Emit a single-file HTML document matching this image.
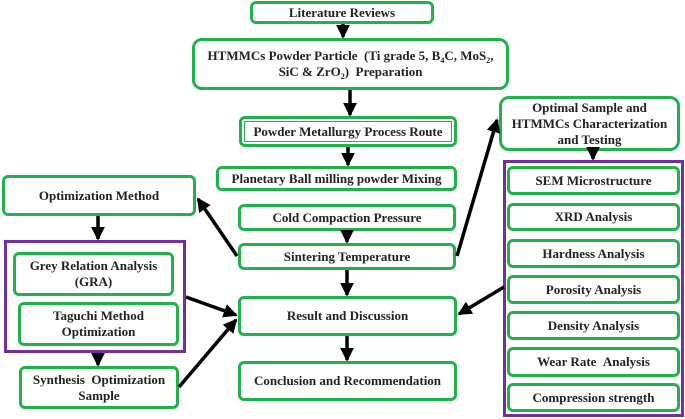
<!DOCTYPE html>
<html><head><style>
body{margin:0;width:685px;height:419px;background:#fff;position:relative;overflow:hidden;font-family:"Liberation Serif","Times New Roman",serif;font-weight:bold;color:#222}
.b{position:absolute;box-sizing:border-box;border:3px solid #22b14c;border-radius:6px;background:#fff;display:flex;align-items:center;justify-content:center;text-align:center;font-size:13px;line-height:16px;font-family:"Liberation Serif","Times New Roman",serif}
.b>span{display:block}
.p{position:absolute;box-sizing:border-box;border:3px solid #7030a0}
svg{position:absolute;left:0;top:0}
sub{font-size:8px;line-height:0;vertical-align:-3px}
</style></head><body>
<div class="p" style="left:4px;top:240px;width:182px;height:113px"></div>
<div class="p" style="left:503px;top:160px;width:181px;height:257px"></div>
<div class="b" style="left:250px;top:1px;width:184px;height:23px"><span>Literature Reviews</span></div>
<div class="b" style="left:192px;top:38px;width:317px;height:52px;border-radius:10px"><span>HTMMCs Powder Particle &nbsp;(Ti grade 5, B<sub>4</sub>C, MoS<sub>2</sub>,<br>SiC &amp; ZrO<sub>2</sub>) &nbsp;Preparation</span></div>
<div class="b" style="left:239px;top:116px;width:218px;height:31px"><div style="position:absolute;left:2px;top:2px;right:2px;bottom:2px;border:1px solid #22b14c"></div><span>Powder Metallurgy Process Route</span></div>
<div class="b" style="left:216px;top:166px;width:241px;height:25px"><span>Planetary Ball milling powder Mixing</span></div>
<div class="b" style="left:2px;top:175px;width:194px;height:41px"><span>Optimization Method</span></div>
<div class="b" style="left:238px;top:204px;width:218px;height:27px"><span>Cold Compaction Pressure</span></div>
<div class="b" style="left:238px;top:243px;width:218px;height:27px"><span>Sintering Temperature</span></div>
<div class="b" style="left:13px;top:252px;width:161px;height:44px"><span>Grey Relation Analysis<br>(GRA)</span></div>
<div class="b" style="left:18px;top:302px;width:161px;height:44px"><span>Taguchi Method<br>Optimization</span></div>
<div class="b" style="left:19px;top:366px;width:160px;height:43px"><span>Synthesis &nbsp;Optimization<br>Sample</span></div>
<div class="b" style="left:238px;top:296px;width:219px;height:40px"><span>Result and Discussion</span></div>
<div class="b" style="left:238px;top:361px;width:219px;height:40px"><span>Conclusion and Recommendation</span></div>
<div class="b" style="left:499px;top:96px;width:181px;height:55px;border-radius:10px"><span>Optimal Sample and<br>HTMMCs Characterization<br>and Testing</span></div>
<div class="b" style="left:507px;top:166px;width:173px;height:29px"><span>SEM Microstructure</span></div>
<div class="b" style="left:507px;top:203px;width:173px;height:28px"><span>XRD Analysis</span></div>
<div class="b" style="left:507px;top:239px;width:173px;height:29px"><span>Hardness Analysis</span></div>
<div class="b" style="left:507px;top:275px;width:173px;height:29px"><span>Porosity Analysis</span></div>
<div class="b" style="left:507px;top:311px;width:173px;height:29px"><span>Density Analysis</span></div>
<div class="b" style="left:507px;top:347px;width:173px;height:30px"><span>Wear Rate &nbsp;Analysis</span></div>
<div class="b" style="left:507px;top:383px;width:173px;height:29px"><span>Compression strength</span></div>
<svg width="685" height="419">
<defs><marker id="a" markerWidth="4" markerHeight="4" refX="3.5" refY="2" orient="auto" markerUnits="strokeWidth"><path d="M0,0L4,2L0,4z" fill="#000"/></marker></defs>
<g stroke="#000" stroke-width="3.5" fill="none" marker-end="url(#a)">
<line x1="343" y1="24" x2="343" y2="37"/>
<line x1="350" y1="90" x2="350" y2="115"/>
<line x1="348" y1="147" x2="348" y2="165"/>
<line x1="347" y1="231" x2="347" y2="242"/>
<line x1="347" y1="270" x2="347" y2="295"/>
<line x1="347" y1="336" x2="347" y2="360"/>
<line x1="237" y1="256" x2="198" y2="199"/>
<line x1="98" y1="216" x2="98" y2="239"/>
<line x1="98" y1="353" x2="98" y2="365"/>
<line x1="186" y1="297" x2="236" y2="315"/>
<line x1="179" y1="387" x2="236" y2="320"/>
<line x1="457" y1="256" x2="497" y2="120"/>
<line x1="593" y1="151" x2="593" y2="159"/>
<line x1="504" y1="287" x2="459" y2="314"/>
</g></svg>
</body></html>
